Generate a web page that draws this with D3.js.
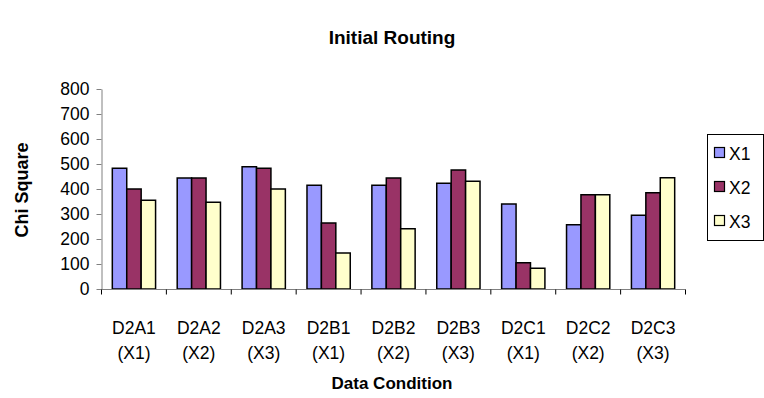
<!DOCTYPE html>
<html><head><meta charset="utf-8">
<script src="https://cdn.jsdelivr.net/npm/d3@7"></script>
<style>body{margin:0;background:#fff}svg{display:block}text{font-family:"Liberation Sans",Arial,sans-serif}</style>
</head><body><svg id="c" width="764" height="398"></svg>
<script>
const categories = ["D2A1","D2A2","D2A3","D2B1","D2B2","D2B3","D2C1","D2C2","D2C3"];
const subLabels = ["(X1)","(X2)","(X3)","(X1)","(X2)","(X3)","(X1)","(X2)","(X3)"];
const seriesNames = ["X1","X2","X3"];
const X1 = [483,444,489,415,415,423,340,257,295];
const X2 = [400,444,483,264,444,476,105,377,385];
const X3 = [355,347,400,144,241,431,83,377,445];
const yTicks = [0,100,200,300,400,500,600,700,800];
const colors = ["#9999FF","#993366","#FFFFCC"];
const series = [X1,X2,X3];

const svg = d3.select("#c");
const x = d3.scaleBand().domain(categories).range([101.5,685.5]).paddingInner(0).paddingOuter(0);
const y = d3.scaleLinear().domain([0,800]).range([289,89]);
const bw = x.bandwidth()/4.5;
const sub = d3.scaleBand().domain(seriesNames).range([0.75*bw, 3.75*bw]).padding(0);

series.forEach((s,si)=>{
  svg.append("g").selectAll("rect").data(s).join("rect")
    .attr("x",(d,i)=>x(categories[i])+sub(seriesNames[si]))
    .attr("y",d=>y(d))
    .attr("width",sub.bandwidth())
    .attr("height",d=>y(0)-y(d))
    .attr("fill",colors[si])
    .attr("stroke","#000").attr("stroke-width",1.5);
});

const ya = svg.append("g").attr("transform","translate(101.5,0)")
  .call(d3.axisLeft(y).tickValues(yTicks).tickSize(5).tickPadding(7).tickSizeOuter(0));
ya.select(".domain").attr("stroke","#808080");
ya.selectAll(".tick line").attr("stroke","#808080");
ya.selectAll("text").attr("font-size",17.5).attr("fill","#000").attr("font-family","Liberation Sans, Arial, sans-serif");

const xa = svg.append("g").attr("transform","translate(0,289.5)");
xa.append("line").attr("x1",x.range()[0]).attr("x2",x.range()[1]).attr("stroke","#808080");
const bounds = categories.map(c=>x(c)).concat([x.range()[1]]);
xa.selectAll("line.t").data(bounds).join("line").attr("class","t")
  .attr("x1",d=>d).attr("x2",d=>d).attr("y1",0).attr("y2",5).attr("stroke","#000");
xa.selectAll("text.a").data(categories).join("text").attr("class","a")
  .attr("x",d=>x(d)+x.bandwidth()/2).attr("y",44).attr("text-anchor","middle")
  .attr("font-size",17.5).text(d=>d);
xa.selectAll("text.b").data(subLabels).join("text").attr("class","b")
  .attr("x",(d,i)=>x(categories[i])+x.bandwidth()/2).attr("y",69).attr("text-anchor","middle")
  .attr("font-size",17.5).text(d=>d);

svg.append("text").attr("x",392).attr("y",44).attr("text-anchor","middle")
  .attr("font-size",19).attr("font-weight","bold").text("Initial Routing");
svg.append("text").attr("x",392).attr("y",389).attr("text-anchor","middle")
  .attr("font-size",17).attr("font-weight","bold").text("Data Condition");
svg.append("text").attr("transform","translate(28,190) rotate(-90)").attr("text-anchor","middle")
  .attr("font-size",18).attr("font-weight","bold").text("Chi Square");

const lg = svg.append("g");
lg.append("rect").attr("x",707.5).attr("y",134.5).attr("width",56).attr("height",106)
  .attr("fill","#fff").attr("stroke","#000");
const ly = d3.scalePoint().domain(seriesNames).range([153,221]);
seriesNames.forEach((n,i)=>{
  lg.append("rect").attr("x",714.5).attr("y",ly(n)-5.5).attr("width",10).attr("height",10)
    .attr("fill",colors[i]).attr("stroke","#000").attr("stroke-width",1.2);
  lg.append("text").attr("x",729).attr("y",ly(n)+6.5).attr("font-size",17.5).text(n);
});
</script></body></html>
